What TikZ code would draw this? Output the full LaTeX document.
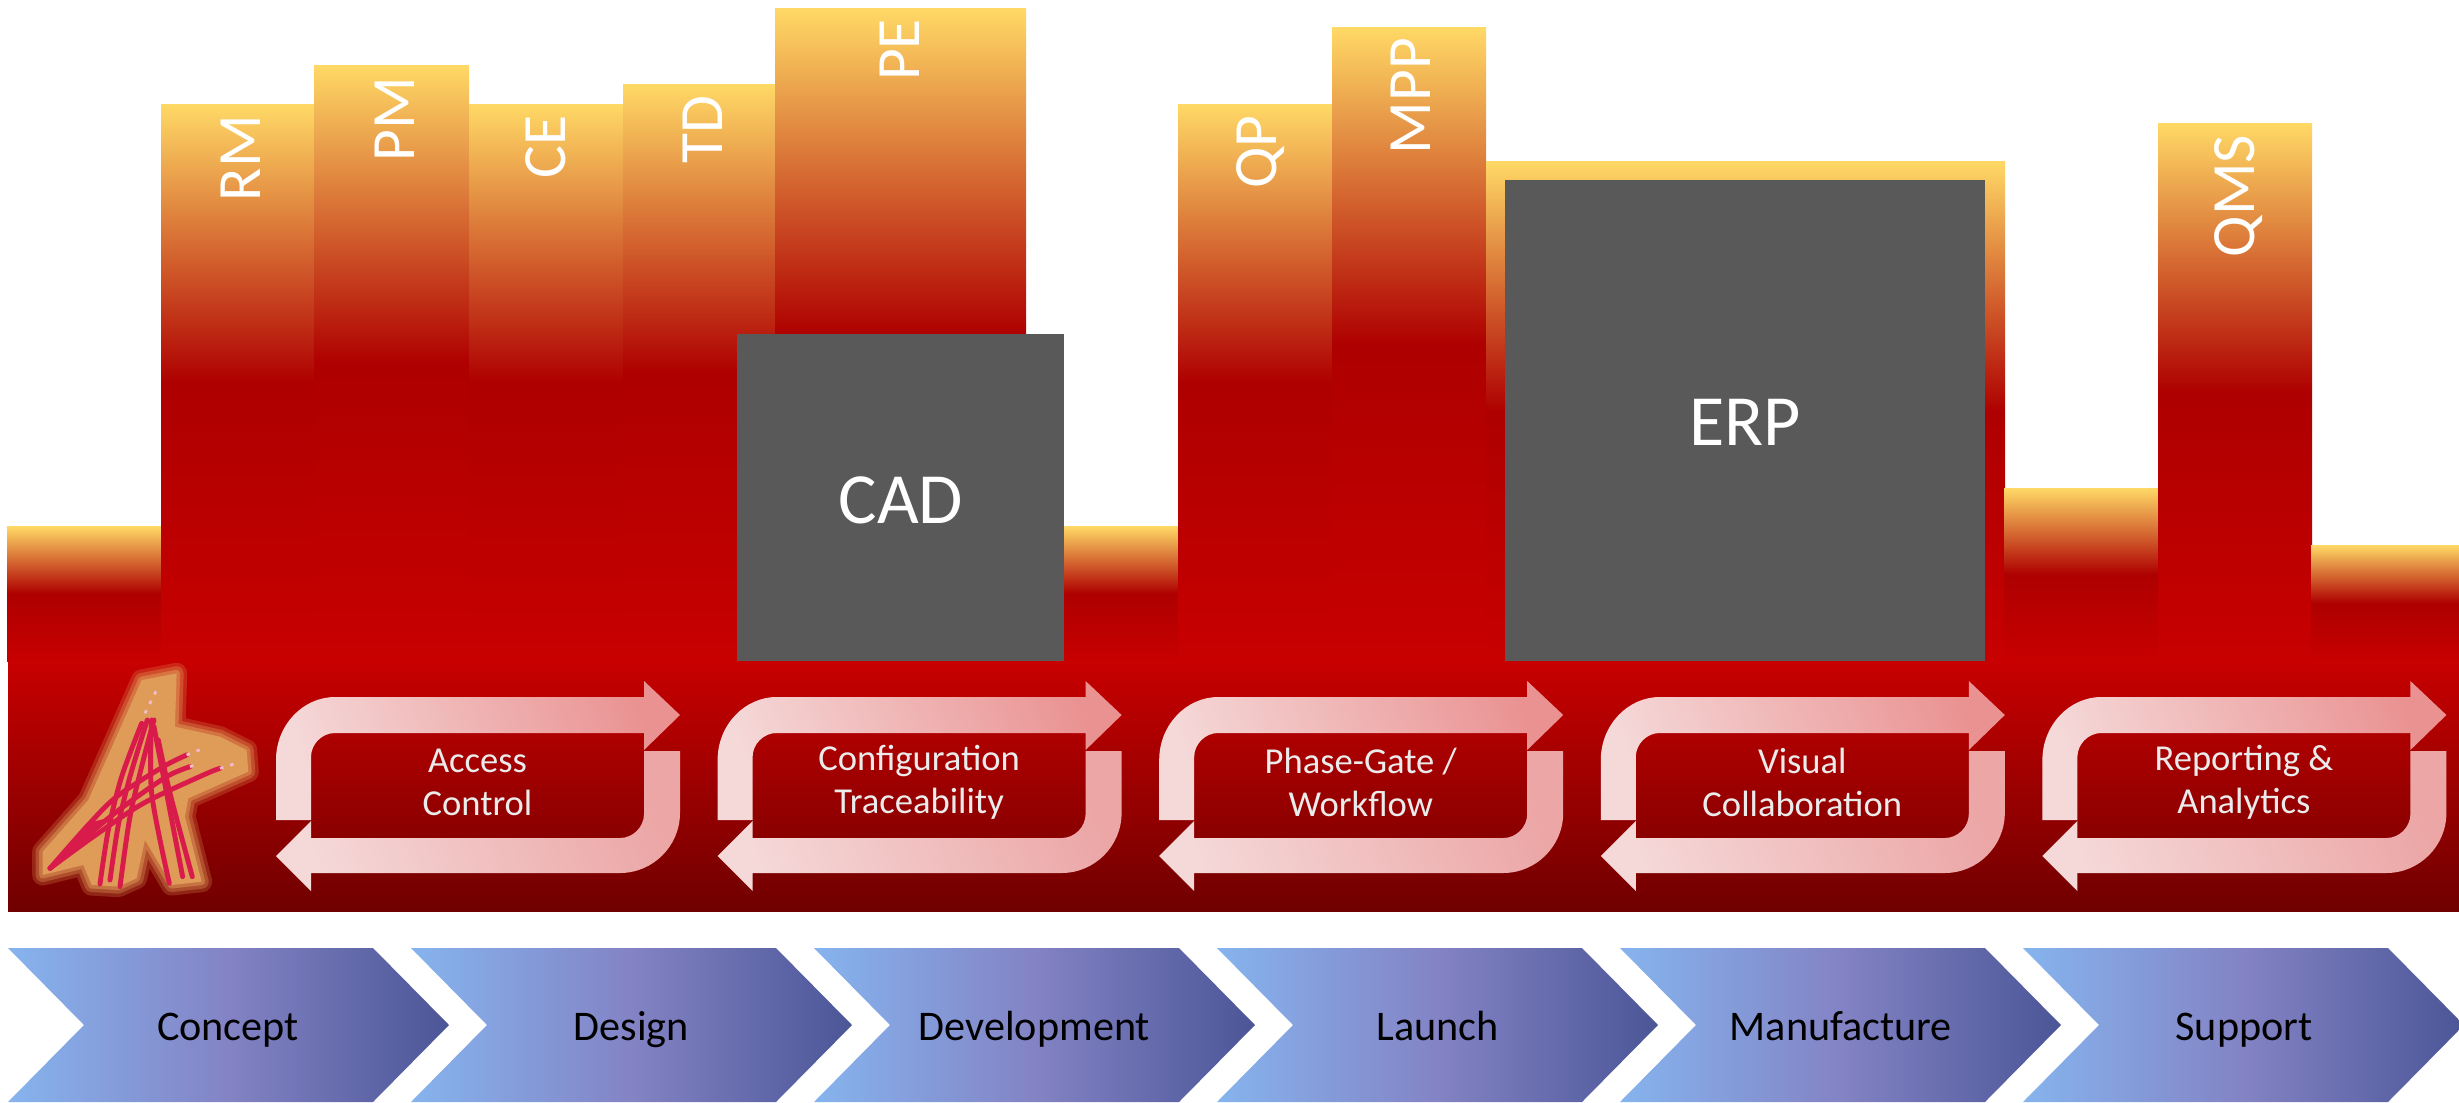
\documentclass[tikz,border=0pt]{standalone}
\usepackage{fontspec}
\setmainfont{Carlito}
\definecolor{vangcot}{HTML}{FFD966}
\definecolor{docot}{HTML}{AE0000}
\definecolor{dochan}{HTML}{C80000}
\definecolor{dodam}{HTML}{700000}
\definecolor{xam}{HTML}{595959}
\definecolor{camlogo}{HTML}{DF9B58}
\definecolor{dologo}{HTML}{D81B4B}
\definecolor{hongnhat}{HTML}{F5D8D8}
\definecolor{hongdam}{HTML}{EA9292}
\definecolor{hongvua}{HTML}{ECA6A6}
\definecolor{xanhnhat}{HTML}{86B4EE}
\definecolor{timvua}{HTML}{8383C5}
\definecolor{xanhdam}{HTML}{4B5697}
\begin{document}
\begin{tikzpicture}[x=0.01cm,y=-0.01cm,line join=round,
	cot/.style={bottom color=dochan,top color=vangcot,middle color=docot},
	nhancot/.style={white,rotate=90,font=\fontsize{17.5}{20}\selectfont,text height=11.3pt,text depth=0pt,inner sep=0pt},
	bang/.style={xam},
	nhanbang/.style={white,font=\fontsize{20.5}{24}\selectfont,text height=13.2pt,text depth=0pt,inner sep=0pt},
	nhanvong/.style={text=black!8!white,align=center,font=\fontsize{10.4}{12.2}\selectfont,inner sep=0pt},
	nhanmui/.style={black,font=\fontsize{12}{14}\selectfont,text height=7.7pt,text depth=0pt,inner sep=0pt}]
	\useasboundingbox (0,0) rectangle (2459,1102);
	%%%%Vòng lặp
	\tikzset{vonglap/.pic={
		\shade[top color=hongdam,bottom color=hongnhat,shading angle=-70] (0,139) -- (0,79) .. controls (0,44) and (27,16) .. (59,16) -- (368,16) -- (368,0) -- (404,34) -- (368,69) -- (368,52) -- (59,52) .. controls (46,52) and (35,63) .. (35,76) -- (35,139) --cycle;
		\shade[top color=hongvua,bottom color=hongnhat,shading angle=-70] (404,70) -- (404,132) .. controls (404,165) and (377,192) .. (344,192) -- (35,192) -- (35,210) -- (0,175) -- (35,140) -- (35,157) -- (344,157) .. controls (357,157) and (368,146) .. (368,133) -- (368,70) --cycle;
	}}
	%%%%Mũi tên giai đoạn
	\tikzset{muiten/.pic={
		\shade[left color=xanhnhat,right color=xanhdam,middle color=timvua] (0,0) -- (365,0) -- (441,77) -- (365,154) -- (0,154) -- (76,77) --cycle;
	}}
	%%%%Logo
	\tikzset{logo/.pic={
		\foreach \rong/\mo in {6/0.25,4/0.35,2/0.5}{
			\draw[camlogo,line width=\rong pt,draw opacity=\mo] (335,60) -- (440,40) -- (435,200) -- (570,230) -- (650,270) -- (655,335) -- (475,415) -- (465,470) -- (515,665) -- (425,675) -- (345,540) -- (320,655) -- (265,680) -- (185,675) -- (160,615) -- (38,645) -- (38,575) -- (175,420) --cycle;
		}
		\fill[camlogo] (335,60) -- (440,40) -- (435,200) -- (570,230) -- (650,270) -- (655,335) -- (475,415) -- (465,470) -- (515,665) -- (425,675) -- (345,540) -- (320,655) -- (265,680) -- (185,675) -- (160,615) -- (38,645) -- (38,575) -- (175,420) --cycle;
		%Các nét đỏ
		\begin{scope}[dologo,line width=1.4pt,line cap=round]
			\draw plot[smooth] coordinates {(365,180) (365,400) (418,670)};
			\draw plot[smooth] coordinates {(372,200) (410,400) (458,650)};
			\draw plot[smooth] coordinates {(385,240) (420,400) (487,650)};
			\draw plot[smooth] coordinates {(270,680) (300,470) (340,300) (372,180)};
			\draw plot[smooth] coordinates {(240,660) (265,495) (300,350) (352,180)};
			\draw plot[smooth] coordinates {(210,672) (235,510) (275,350) (335,190)};
			\draw plot[smooth] coordinates {(60,625) (170,500) (260,410) (400,320) (470,285)};
			\draw plot[smooth] coordinates {(60,625) (180,520) (280,440) (410,350) (480,320)};
			\draw plot[smooth] coordinates {(60,625) (190,530) (340,430) (520,345) (570,325)};
			\fill (60,625) -- (170,490) -- (250,470) -- (110,590) --cycle;
		\end{scope}
		\draw[white!70!dologo,line width=0.8pt,dash pattern=on 1pt off 2pt] (345,160) -- (380,90);
		\draw[white!70!dologo,line width=0.8pt,dash pattern=on 1pt off 2pt] (470,285) -- (520,265);
		\draw[white!70!dologo,line width=0.8pt,dash pattern=on 1pt off 2pt] (480,320) -- (510,310);
		\draw[white!70!dologo,line width=0.8pt,dash pattern=on 1pt off 2pt] (570,325) -- (625,308);
	}}
	%%%%Các cột
	\foreach \xa/\xb/\yt in {7/162/526,161/314/104,314/469/65,469/623/104,623/775/84,775/1026/8,1064/1179/526,1178/1332/104,1332/1486/27,1486/2005/161,2004/2158/488,2158/2312/123,2311/2459/545}{
		\fill[cot] (\xa,\yt) rectangle (\xb,661);
	}
	%%%%Dải đỏ
	\fill[top color=dochan,bottom color=dodam] (8,660) rectangle (2459,911);
	%%%%Bảng xám
	\fill[bang] (737,334) rectangle (1064,661);
	\fill[bang] (1505,180) rectangle (1985,661);
	\node[nhanbang] (CAD) at (901,500) {CAD};
	\node[nhanbang] (ERP) at (1745,422) {ERP};
	%Nhãn cột
	\foreach \ten/\xc/\yc in {RM/241/158,PM/395/119,CE/546/147,TD/703/130,PE/900/50,QP/1257/152,MPP/1411/96,QMS/2235/196}{
		\node[nhancot] (\ten) at (\xc,\yc) {\ten};
	}
	\path (30,660) pic[scale=0.3333]{logo};
	%Vòng lặp và nhãn
	\foreach \i/\ten in {0/{Access\\Control},1/{Configuration\\Traceability},2/{Phase-Gate /\\Workflow},3/{Visual\\Collaboration},4/{Reporting \&\\Analytics}}{
		\path (276+441.6*\i,681) pic{vonglap};
		\node[nhanvong] (vong\i) at (477.5+441.6*\i,782.5) {\ten};
	}
	%Giai đoạn
	\foreach \i/\ten in {0/Concept,1/Design,2/Development,3/Launch,4/Manufacture,5/Support}{
		\path (8+403*\i,948) pic{muiten};
		\node[nhanmui] (giaidoan\i) at (228+403.2*\i,1027) {\ten};
	}
\end{tikzpicture}
\end{document}
